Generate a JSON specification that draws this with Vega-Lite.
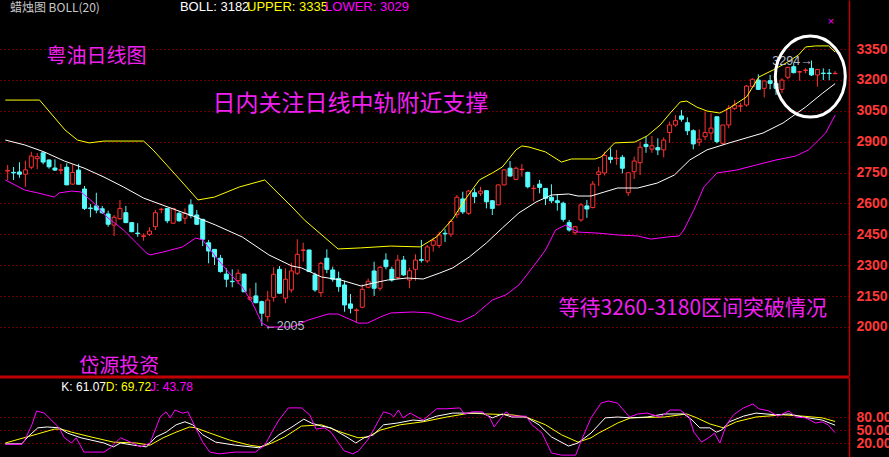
{
"$schema": "https://vega.github.io/schema/vega-lite/v6.json",
"width": 849, "height": 457,
"autosize": {"type": "none"},
"padding": {"left": 0, "top": 0, "right": 40, "bottom": 0},
"background": "#000000",
"config": {"view": {"stroke": null}},
"datasets": {
"candles": [
{"i":0,"o":2757,"c":2761,"h":2787,"l":2714},{"i":1,"o":2751,"c":2748,"h":2777,"l":2714},{"i":2,"o":2753,"c":2742,"h":2800,"l":2725},{"i":3,"o":2742,"c":2763,"h":2808,"l":2681},{"i":4,"o":2776,"c":2830,"h":2851,"l":2766},{"i":5,"o":2817,"c":2827,"h":2844,"l":2766},{"i":6,"o":2846,"c":2801,"h":2846,"l":2790},{"i":7,"o":2811,"c":2778,"h":2814,"l":2769},{"i":8,"o":2772,"c":2762,"h":2814,"l":2758},{"i":9,"o":2761,"c":2764,"h":2792,"l":2742},
{"i":10,"o":2776,"c":2690,"h":2795,"l":2690},{"i":11,"o":2694,"c":2751,"h":2790,"l":2691},{"i":12,"o":2762,"c":2693,"h":2792,"l":2693},{"i":13,"o":2670,"c":2576,"h":2685,"l":2568},{"i":14,"o":2578,"c":2575,"h":2597,"l":2533},{"i":15,"o":2588,"c":2568,"h":2652,"l":2552},{"i":16,"o":2574,"c":2555,"h":2588,"l":2549},{"i":17,"o":2549,"c":2499,"h":2565,"l":2487},{"i":18,"o":2495,"c":2533,"h":2544,"l":2442},{"i":19,"o":2526,"c":2576,"h":2617,"l":2520},
{"i":20,"o":2555,"c":2507,"h":2588,"l":2504},{"i":21,"o":2507,"c":2463,"h":2510,"l":2460},{"i":22,"o":2456,"c":2453,"h":2504,"l":2438},{"i":23,"o":2440,"c":2443,"h":2455,"l":2419},{"i":24,"o":2450,"c":2466,"h":2484,"l":2442},{"i":25,"o":2487,"c":2555,"h":2568,"l":2471},{"i":26,"o":2570,"c":2572,"h":2579,"l":2552},{"i":27,"o":2576,"c":2516,"h":2577,"l":2504},{"i":28,"o":2504,"c":2576,"h":2577,"l":2503},{"i":29,"o":2552,"c":2516,"h":2560,"l":2511},
{"i":30,"o":2528,"c":2552,"h":2576,"l":2500},{"i":31,"o":2593,"c":2541,"h":2620,"l":2528},{"i":32,"o":2544,"c":2499,"h":2568,"l":2495},{"i":33,"o":2523,"c":2426,"h":2524,"l":2393},{"i":34,"o":2409,"c":2369,"h":2423,"l":2309},{"i":35,"o":2377,"c":2341,"h":2378,"l":2301},{"i":36,"o":2334,"c":2269,"h":2350,"l":2264},{"i":37,"o":2257,"c":2232,"h":2285,"l":2193},{"i":38,"o":2222,"c":2220,"h":2280,"l":2193},{"i":39,"o":2225,"c":2261,"h":2280,"l":2209},
{"i":40,"o":2257,"c":2171,"h":2258,"l":2170},{"i":41,"o":2135,"c":2144,"h":2188,"l":2128},{"i":42,"o":2151,"c":2118,"h":2215,"l":2115},{"i":43,"o":2123,"c":2067,"h":2128,"l":2005},{"i":44,"o":2050,"c":2131,"h":2175,"l":2026},{"i":45,"o":2144,"c":2256,"h":2290,"l":2123},{"i":46,"o":2280,"c":2164,"h":2296,"l":2163},{"i":47,"o":2140,"c":2232,"h":2285,"l":2115},{"i":48,"o":2180,"c":2272,"h":2312,"l":2167},{"i":49,"o":2261,"c":2353,"h":2426,"l":2253},
{"i":50,"o":2372,"c":2374,"h":2409,"l":2317},{"i":51,"o":2374,"c":2269,"h":2375,"l":2268},{"i":52,"o":2253,"c":2180,"h":2264,"l":2171},{"i":53,"o":2167,"c":2309,"h":2317,"l":2147},{"i":54,"o":2334,"c":2280,"h":2377,"l":2261},{"i":55,"o":2277,"c":2232,"h":2293,"l":2220},{"i":56,"o":2236,"c":2196,"h":2269,"l":2171},{"i":57,"o":2204,"c":2107,"h":2225,"l":2074},{"i":58,"o":2112,"c":2091,"h":2160,"l":2066},{"i":59,"o":2080,"c":2083,"h":2091,"l":2021},
{"i":60,"o":2096,"c":2183,"h":2207,"l":2091},{"i":61,"o":2193,"c":2222,"h":2236,"l":2188},{"i":62,"o":2272,"c":2188,"h":2317,"l":2151},{"i":63,"o":2188,"c":2290,"h":2296,"l":2176},{"i":64,"o":2325,"c":2293,"h":2358,"l":2280},{"i":65,"o":2280,"c":2228,"h":2293,"l":2220},{"i":66,"o":2240,"c":2325,"h":2350,"l":2232},{"i":67,"o":2325,"c":2253,"h":2345,"l":2248},{"i":68,"o":2228,"c":2273,"h":2288,"l":2188},{"i":69,"o":2280,"c":2325,"h":2353,"l":2225},
{"i":70,"o":2327,"c":2324,"h":2423,"l":2313},{"i":71,"o":2321,"c":2389,"h":2398,"l":2311},{"i":72,"o":2397,"c":2419,"h":2434,"l":2366},{"i":73,"o":2396,"c":2447,"h":2463,"l":2384},{"i":74,"o":2455,"c":2452,"h":2475,"l":2413},{"i":75,"o":2451,"c":2512,"h":2523,"l":2437},{"i":76,"o":2546,"c":2630,"h":2641,"l":2529},{"i":77,"o":2622,"c":2559,"h":2657,"l":2549},{"i":78,"o":2552,"c":2660,"h":2665,"l":2544},{"i":79,"o":2652,"c":2633,"h":2673,"l":2601},
{"i":80,"o":2649,"c":2660,"h":2681,"l":2636},{"i":81,"o":2662,"c":2608,"h":2665,"l":2576},{"i":82,"o":2613,"c":2576,"h":2617,"l":2544},{"i":83,"o":2593,"c":2690,"h":2691,"l":2592},{"i":84,"o":2690,"c":2763,"h":2766,"l":2687},{"i":85,"o":2771,"c":2733,"h":2806,"l":2730},{"i":86,"o":2717,"c":2771,"h":2779,"l":2714},{"i":87,"o":2764,"c":2766,"h":2792,"l":2730},{"i":88,"o":2751,"c":2681,"h":2754,"l":2673},{"i":89,"o":2672,"c":2674,"h":2690,"l":2609},
{"i":90,"o":2694,"c":2678,"h":2714,"l":2649},{"i":91,"o":2673,"c":2625,"h":2674,"l":2592},{"i":92,"o":2630,"c":2613,"h":2693,"l":2601},{"i":93,"o":2613,"c":2604,"h":2646,"l":2565},{"i":94,"o":2601,"c":2523,"h":2609,"l":2511},{"i":95,"o":2507,"c":2471,"h":2520,"l":2463},{"i":96,"o":2458,"c":2487,"h":2491,"l":2447},{"i":97,"o":2520,"c":2593,"h":2601,"l":2511},{"i":98,"o":2588,"c":2573,"h":2617,"l":2530},{"i":99,"o":2580,"c":2694,"h":2709,"l":2576},
{"i":100,"o":2741,"c":2753,"h":2777,"l":2685},{"i":101,"o":2748,"c":2833,"h":2851,"l":2736},{"i":102,"o":2824,"c":2814,"h":2868,"l":2795},{"i":103,"o":2818,"c":2820,"h":2860,"l":2787},{"i":104,"o":2824,"c":2771,"h":2835,"l":2746},{"i":105,"o":2652,"c":2749,"h":2749,"l":2636},{"i":106,"o":2754,"c":2806,"h":2827,"l":2719},{"i":107,"o":2798,"c":2873,"h":2900,"l":2738},{"i":108,"o":2887,"c":2876,"h":2924,"l":2846},{"i":109,"o":2864,"c":2880,"h":2928,"l":2846},
{"i":110,"o":2871,"c":2860,"h":2916,"l":2835},{"i":111,"o":2860,"c":2908,"h":2921,"l":2824},{"i":112,"o":2944,"c":2981,"h":2997,"l":2895},{"i":113,"o":2981,"c":3002,"h":3030,"l":2973},{"i":114,"o":3025,"c":3009,"h":3054,"l":2997},{"i":115,"o":2992,"c":2953,"h":3018,"l":2932},{"i":116,"o":2953,"c":2889,"h":2960,"l":2863},{"i":117,"o":2898,"c":2912,"h":2960,"l":2879},{"i":118,"o":2924,"c":2944,"h":3045,"l":2908},{"i":119,"o":2942,"c":2966,"h":3038,"l":2908},
{"i":120,"o":3021,"c":2900,"h":3021,"l":2892},{"i":121,"o":2892,"c":2981,"h":2981,"l":2884},{"i":122,"o":2981,"c":3062,"h":3078,"l":2965},{"i":123,"o":3062,"c":3078,"h":3102,"l":3054},{"i":124,"o":3072,"c":3074,"h":3089,"l":3045},{"i":125,"o":3078,"c":3170,"h":3175,"l":3070},{"i":126,"o":3167,"c":3203,"h":3208,"l":3167},{"i":127,"o":3199,"c":3154,"h":3227,"l":3151},{"i":128,"o":3159,"c":3195,"h":3195,"l":3115},{"i":129,"o":3196,"c":3183,"h":3224,"l":3154},
{"i":130,"o":3183,"c":3159,"h":3203,"l":3127},{"i":131,"o":3154,"c":3199,"h":3208,"l":3135},{"i":132,"o":3213,"c":3261,"h":3264,"l":3203},{"i":133,"o":3264,"c":3235,"h":3282,"l":3232},{"i":134,"o":3238,"c":3240,"h":3245,"l":3196},{"i":135,"o":3246,"c":3248,"h":3257,"l":3232},{"i":136,"o":3256,"c":3224,"h":3294,"l":3219},{"i":137,"o":3224,"c":3251,"h":3253,"l":3167},{"i":138,"o":3233,"c":3231,"h":3256,"l":3199},{"i":139,"o":3233,"c":3231,"h":3253,"l":3199},
{"i":140,"o":3230,"c":3232,"h":3243,"l":3228}
],
"boll": [
{"i":-0.4,"b":"U","v":3102},{"i":5.4,"b":"U","v":3102},{"i":9.7,"b":"U","v":2957},{"i":11.8,"b":"U","v":2908},{"i":13.8,"b":"U","v":2894},{"i":16.3,"b":"U","v":2903},{"i":23,"b":"U","v":2903},{"i":24.6,"b":"U","v":2860},{"i":29.2,"b":"U","v":2714},{"i":32.2,"b":"U","v":2617},{"i":35,"b":"U","v":2631},{"i":39.2,"b":"U","v":2680},{"i":43.5,"b":"U","v":2714},{"i":48.1,"b":"U","v":2583},{"i":50.2,"b":"U","v":2520},{"i":55.9,"b":"U","v":2379},{"i":59.7,"b":"U","v":2384},{"i":64.8,"b":"U","v":2393},{"i":69.8,"b":"U","v":2389},{"i":72.6,"b":"U","v":2438},{"i":75.3,"b":"U","v":2525},{"i":77.6,"b":"U","v":2627},{"i":79.8,"b":"U","v":2714},{"i":82,"b":"U","v":2748},{"i":83.7,"b":"U","v":2777},{"i":86,"b":"U","v":2860},{"i":87,"b":"U","v":2879},{"i":88.2,"b":"U","v":2874},{"i":91,"b":"U","v":2850},{"i":93.7,"b":"U","v":2801},{"i":95.4,"b":"U","v":2816},{"i":99.4,"b":"U","v":2816},{"i":100.4,"b":"U","v":2826},{"i":102.7,"b":"U","v":2894},{"i":106.1,"b":"U","v":2898},{"i":108.2,"b":"U","v":2928},{"i":110.4,"b":"U","v":2981},{"i":112.1,"b":"U","v":3039},{"i":113.8,"b":"U","v":3093},{"i":114.9,"b":"U","v":3097},{"i":116.6,"b":"U","v":3068},{"i":118.3,"b":"U","v":3049},{"i":120.5,"b":"U","v":3039},{"i":122.1,"b":"U","v":3063},{"i":125,"b":"U","v":3117},{"i":127.1,"b":"U","v":3214},{"i":129.5,"b":"U","v":3248},{"i":131.7,"b":"U","v":3282},{"i":133.8,"b":"U","v":3321},{"i":135,"b":"U","v":3360},{"i":136.7,"b":"U","v":3365},{"i":138.9,"b":"U","v":3365},{"i":140,"b":"U","v":3335},
{"i":-0.4,"b":"M","v":2908},{"i":2.9,"b":"M","v":2884},{"i":6.2,"b":"M","v":2850},{"i":9.6,"b":"M","v":2806},{"i":12.9,"b":"M","v":2772},{"i":16.3,"b":"M","v":2728},{"i":19.6,"b":"M","v":2680},{"i":23,"b":"M","v":2626},{"i":28.5,"b":"M","v":2568},{"i":31.8,"b":"M","v":2534},{"i":35.2,"b":"M","v":2495},{"i":39.7,"b":"M","v":2437},{"i":44.2,"b":"M","v":2350},{"i":48.1,"b":"M","v":2296},{"i":49.7,"b":"M","v":2287},{"i":53.1,"b":"M","v":2243},{"i":56.4,"b":"M","v":2228},{"i":59.8,"b":"M","v":2199},{"i":61.9,"b":"M","v":2214},{"i":64.3,"b":"M","v":2228},{"i":67.6,"b":"M","v":2238},{"i":70.3,"b":"M","v":2233},{"i":73.1,"b":"M","v":2262},{"i":75.3,"b":"M","v":2287},{"i":78.1,"b":"M","v":2340},{"i":81,"b":"M","v":2408},{"i":83.7,"b":"M","v":2481},{"i":86.5,"b":"M","v":2554},{"i":89.4,"b":"M","v":2607},{"i":92,"b":"M","v":2641},{"i":94.9,"b":"M","v":2646},{"i":96.5,"b":"M","v":2636},{"i":98.7,"b":"M","v":2636},{"i":101,"b":"M","v":2656},{"i":103.2,"b":"M","v":2675},{"i":106.6,"b":"M","v":2675},{"i":109.9,"b":"M","v":2699},{"i":112.8,"b":"M","v":2738},{"i":115.4,"b":"M","v":2811},{"i":118.3,"b":"M","v":2860},{"i":122.1,"b":"M","v":2894},{"i":127.8,"b":"M","v":2942},{"i":131.2,"b":"M","v":2991},{"i":135,"b":"M","v":3068},{"i":137.9,"b":"M","v":3136},{"i":140,"b":"M","v":3182},
{"i":-0.4,"b":"L","v":2714},{"i":2.9,"b":"L","v":2665},{"i":5.1,"b":"L","v":2651},{"i":7.9,"b":"L","v":2631},{"i":8.7,"b":"L","v":2651},{"i":10.8,"b":"L","v":2660},{"i":12.4,"b":"L","v":2656},{"i":14.6,"b":"L","v":2602},{"i":16.8,"b":"L","v":2534},{"i":19.6,"b":"L","v":2471},{"i":21.8,"b":"L","v":2408},{"i":23.5,"b":"L","v":2359},{"i":24.1,"b":"L","v":2350},{"i":26.3,"b":"L","v":2364},{"i":29.6,"b":"L","v":2389},{"i":31.8,"b":"L","v":2432},{"i":33,"b":"L","v":2423},{"i":35.2,"b":"L","v":2340},{"i":37.5,"b":"L","v":2262},{"i":39.7,"b":"L","v":2194},{"i":41.4,"b":"L","v":2117},{"i":43,"b":"L","v":2019},{"i":44.2,"b":"L","v":2000},{"i":48.1,"b":"L","v":2000},{"i":50.9,"b":"L","v":2034},{"i":54.2,"b":"L","v":2063},{"i":55.9,"b":"L","v":2063},{"i":59.3,"b":"L","v":2019},{"i":60.9,"b":"L","v":2019},{"i":63.1,"b":"L","v":2049},{"i":64.8,"b":"L","v":2068},{"i":68.6,"b":"L","v":2073},{"i":71.5,"b":"L","v":2068},{"i":74,"b":"L","v":2044},{"i":76.5,"b":"L","v":2024},{"i":79,"b":"L","v":2058},{"i":82,"b":"L","v":2131},{"i":84.3,"b":"L","v":2156},{"i":86.5,"b":"L","v":2204},{"i":89.4,"b":"L","v":2311},{"i":91,"b":"L","v":2374},{"i":92.7,"b":"L","v":2471},{"i":94.4,"b":"L","v":2495},{"i":96.5,"b":"L","v":2461},{"i":99.9,"b":"L","v":2456},{"i":103.2,"b":"L","v":2447},{"i":106.6,"b":"L","v":2442},{"i":108.8,"b":"L","v":2427},{"i":111.6,"b":"L","v":2437},{"i":113.6,"b":"L","v":2442},{"i":114.4,"b":"L","v":2471},{"i":116.1,"b":"L","v":2568},{"i":117.8,"b":"L","v":2680},{"i":120,"b":"L","v":2748},{"i":123.3,"b":"L","v":2762},{"i":126.7,"b":"L","v":2787},{"i":130,"b":"L","v":2811},{"i":133.3,"b":"L","v":2830},{"i":135.5,"b":"L","v":2860},{"i":138.4,"b":"L","v":2942},{"i":140,"b":"L","v":3029}
],
"kdj": [
{"i":-0.4,"k":"D","v":20},{"i":5.1,"k":"D","v":41},{"i":7.9,"k":"D","v":52},{"i":9.1,"k":"D","v":52},{"i":10.8,"k":"D","v":45},{"i":14.1,"k":"D","v":34},{"i":17.9,"k":"D","v":22},{"i":21.8,"k":"D","v":20},{"i":24.1,"k":"D","v":15},{"i":26.3,"k":"D","v":32},{"i":28.5,"k":"D","v":45},{"i":30.8,"k":"D","v":57},{"i":31.8,"k":"D","v":55},{"i":34.2,"k":"D","v":43},{"i":37.5,"k":"D","v":27},{"i":40.9,"k":"D","v":15},{"i":43,"k":"D","v":11},{"i":44.7,"k":"D","v":20},{"i":46.9,"k":"D","v":34},{"i":49.7,"k":"D","v":59},{"i":53.1,"k":"D","v":62},{"i":56.4,"k":"D","v":45},{"i":59.3,"k":"D","v":32},{"i":60.9,"k":"D","v":34},{"i":63.1,"k":"D","v":50},{"i":66.4,"k":"D","v":62},{"i":70.3,"k":"D","v":69},{"i":74.3,"k":"D","v":80},{"i":78.2,"k":"D","v":89},{"i":81,"k":"D","v":87},{"i":85.3,"k":"D","v":85},{"i":87.7,"k":"D","v":80},{"i":91,"k":"D","v":62},{"i":93.7,"k":"D","v":39},{"i":96.5,"k":"D","v":22},{"i":98.7,"k":"D","v":32},{"i":100,"k":"D","v":43},{"i":102.1,"k":"D","v":58},{"i":103.2,"k":"D","v":66},{"i":105.4,"k":"D","v":78},{"i":111.1,"k":"D","v":80},{"i":114.9,"k":"D","v":87},{"i":116.6,"k":"D","v":78},{"i":118.8,"k":"D","v":64},{"i":121.1,"k":"D","v":55},{"i":123.3,"k":"D","v":69},{"i":126.6,"k":"D","v":80},{"i":131.2,"k":"D","v":85},{"i":134.5,"k":"D","v":82},{"i":137.8,"k":"D","v":78},{"i":140,"k":"D","v":69.72},
{"i":-0.4,"k":"K","v":18},{"i":2.4,"k":"K","v":18},{"i":3.4,"k":"K","v":34},{"i":5.1,"k":"K","v":55},{"i":6.7,"k":"K","v":57},{"i":8.7,"k":"K","v":55},{"i":10.1,"k":"K","v":43},{"i":12.4,"k":"K","v":32},{"i":16.3,"k":"K","v":20},{"i":17.9,"k":"K","v":11},{"i":19.1,"k":"K","v":20},{"i":21.3,"k":"K","v":15},{"i":23.5,"k":"K","v":11},{"i":25.1,"k":"K","v":34},{"i":26.8,"k":"K","v":45},{"i":28.5,"k":"K","v":62},{"i":30,"k":"K","v":69},{"i":31.3,"k":"K","v":62},{"i":33,"k":"K","v":39},{"i":35.2,"k":"K","v":22},{"i":38.5,"k":"K","v":15},{"i":42.5,"k":"K","v":9},{"i":44.2,"k":"K","v":20},{"i":45.9,"k":"K","v":39},{"i":48.1,"k":"K","v":57},{"i":50.1,"k":"K","v":75},{"i":51.4,"k":"K","v":66},{"i":53.1,"k":"K","v":59},{"i":54.7,"k":"K","v":55},{"i":57.6,"k":"K","v":32},{"i":58.9,"k":"K","v":20},{"i":60.3,"k":"K","v":32},{"i":61.9,"k":"K","v":39},{"i":63.6,"k":"K","v":62},{"i":65.9,"k":"K","v":66},{"i":68.6,"k":"K","v":73},{"i":70.3,"k":"K","v":71},{"i":72.6,"k":"K","v":82},{"i":75.3,"k":"K","v":89},{"i":77.6,"k":"K","v":89},{"i":80.3,"k":"K","v":89},{"i":82,"k":"K","v":78},{"i":83.7,"k":"K","v":87},{"i":85.3,"k":"K","v":80},{"i":87.7,"k":"K","v":80},{"i":89.9,"k":"K","v":62},{"i":92,"k":"K","v":34},{"i":94.9,"k":"K","v":13},{"i":96.5,"k":"K","v":20},{"i":98.7,"k":"K","v":43},{"i":101.1,"k":"K","v":78},{"i":103.2,"k":"K","v":80},{"i":105.4,"k":"K","v":78},{"i":108.2,"k":"K","v":80},{"i":111.1,"k":"K","v":87},{"i":114.4,"k":"K","v":87},{"i":115.8,"k":"K","v":73},{"i":117.1,"k":"K","v":55},{"i":118.8,"k":"K","v":55},{"i":119.9,"k":"K","v":45},{"i":120.8,"k":"K","v":50},{"i":122.1,"k":"K","v":69},{"i":124.5,"k":"K","v":82},{"i":126.6,"k":"K","v":89},{"i":130,"k":"K","v":85},{"i":132.2,"k":"K","v":87},{"i":134.5,"k":"K","v":80},{"i":137.8,"k":"K","v":73},{"i":140,"k":"K","v":61.07},
{"i":-0.4,"k":"J","v":17},{"i":2.4,"k":"J","v":17},{"i":2.9,"k":"J","v":27},{"i":4.1,"k":"J","v":62},{"i":4.9,"k":"J","v":94},{"i":6.2,"k":"J","v":89},{"i":7.4,"k":"J","v":73},{"i":8.7,"k":"J","v":55},{"i":9.6,"k":"J","v":32},{"i":10.8,"k":"J","v":20},{"i":11.6,"k":"J","v":32},{"i":12.9,"k":"J","v":-1},{"i":16.3,"k":"J","v":-1},{"i":17.4,"k":"J","v":9},{"i":19.1,"k":"J","v":32},{"i":20.8,"k":"J","v":22},{"i":22.5,"k":"J","v":11},{"i":24.1,"k":"J","v":20},{"i":25.8,"k":"J","v":80},{"i":26.8,"k":"J","v":92},{"i":27.5,"k":"J","v":78},{"i":28.3,"k":"J","v":96},{"i":29.6,"k":"J","v":89},{"i":30.5,"k":"J","v":92},{"i":31.8,"k":"J","v":55},{"i":33,"k":"J","v":22},{"i":34.2,"k":"J","v":-1},{"i":35.8,"k":"J","v":-5},{"i":38.5,"k":"J","v":-1},{"i":41.9,"k":"J","v":-1},{"i":43.5,"k":"J","v":15},{"i":44.7,"k":"J","v":45},{"i":45.9,"k":"J","v":73},{"i":47.5,"k":"J","v":101},{"i":49.7,"k":"J","v":101},{"i":51.1,"k":"J","v":85},{"i":52.2,"k":"J","v":52},{"i":53.6,"k":"J","v":55},{"i":54.7,"k":"J","v":45},{"i":55.9,"k":"J","v":22},{"i":56.9,"k":"J","v":2},{"i":58.4,"k":"J","v":-5},{"i":59.4,"k":"J","v":2},{"i":60.9,"k":"J","v":27},{"i":61.9,"k":"J","v":50},{"i":62.8,"k":"J","v":73},{"i":63.6,"k":"J","v":92},{"i":64.8,"k":"J","v":87},{"i":65.3,"k":"J","v":80},{"i":66.1,"k":"J","v":96},{"i":66.9,"k":"J","v":78},{"i":68.1,"k":"J","v":89},{"i":69.3,"k":"J","v":80},{"i":70.3,"k":"J","v":73},{"i":72.6,"k":"J","v":99},{"i":74.3,"k":"J","v":99},{"i":76.5,"k":"J","v":101},{"i":77.3,"k":"J","v":87},{"i":78.6,"k":"J","v":92},{"i":80.3,"k":"J","v":92},{"i":81.5,"k":"J","v":80},{"i":82.3,"k":"J","v":57},{"i":83.2,"k":"J","v":73},{"i":84.3,"k":"J","v":92},{"i":85.3,"k":"J","v":82},{"i":87.7,"k":"J","v":82},{"i":88.7,"k":"J","v":62},{"i":90.4,"k":"J","v":43},{"i":92,"k":"J","v":-3},{"i":93.7,"k":"J","v":-8},{"i":96.1,"k":"J","v":-8},{"i":97.1,"k":"J","v":27},{"i":98.7,"k":"J","v":78},{"i":100.4,"k":"J","v":112},{"i":101.6,"k":"J","v":117},{"i":103.2,"k":"J","v":112},{"i":105.2,"k":"J","v":80},{"i":106.6,"k":"J","v":87},{"i":108.2,"k":"J","v":89},{"i":110.4,"k":"J","v":80},{"i":112.1,"k":"J","v":96},{"i":113.8,"k":"J","v":96},{"i":115.3,"k":"J","v":80},{"i":116.1,"k":"J","v":45},{"i":117.4,"k":"J","v":22},{"i":118.8,"k":"J","v":34},{"i":119.6,"k":"J","v":43},{"i":120.5,"k":"J","v":20},{"i":121.6,"k":"J","v":62},{"i":122.8,"k":"J","v":85},{"i":124.5,"k":"J","v":101},{"i":126.1,"k":"J","v":110},{"i":127.1,"k":"J","v":99},{"i":128.8,"k":"J","v":94},{"i":130.3,"k":"J","v":82},{"i":132.2,"k":"J","v":94},{"i":133.3,"k":"J","v":80},{"i":135,"k":"J","v":78},{"i":136.7,"k":"J","v":66},{"i":137.8,"k":"J","v":69},{"i":138.8,"k":"J","v":62},{"i":140,"k":"J","v":43.78}
]
},
"layer": [
{"data": {"name": "candles"},
 "mark": {"type": "rule", "strokeWidth": 1},
 "encoding": {
  "x": {"field": "i", "type": "quantitative", "scale": {"domain": [-0.45, 141.5], "nice": false, "zero": false}, "axis": null},
  "y": {"field": "l", "type": "quantitative", "scale": {"domain": [1762, 3588], "range": [376, 0], "nice": false, "zero": false},
        "axis": {"orient": "right", "values": [2000,2150,2300,2450,2600,2750,2900,3050,3200,3350], "format": "d", "title": null, "ticks": false,
                 "labelColor": "#ff3838", "labelFont": "Liberation Sans", "labelFontSize": 14, "labelFontWeight": "bold", "labelPadding": 7,
                 "labelOverlap": false, "labelFlush": false, "grid": true, "gridColor": "#d00000", "gridDash": [1, 3], "gridWidth": 1,
                 "domainColor": "#c00000", "domainWidth": 1.5}},
  "y2": {"field": "h"},
  "color": {"condition": {"test": "datum.c >= datum.o", "value": "#ff3232"}, "value": "#54fcfc"}
 }},
{"data": {"name": "candles"},
 "mark": {"type": "bar", "width": 4, "orient": "vertical", "strokeWidth": 1},
 "encoding": {
  "x": {"field": "i", "type": "quantitative", "scale": {"domain": [-0.45, 141.5], "nice": false, "zero": false}, "axis": null},
  "y": {"field": "o", "type": "quantitative", "scale": {"domain": [1762, 3588], "range": [376, 0], "nice": false, "zero": false}, "axis": null},
  "y2": {"field": "c"},
  "fill": {"condition": {"test": "datum.c >= datum.o", "value": "#000000"}, "value": "#54fcfc"},
  "stroke": {"condition": {"test": "datum.c >= datum.o", "value": "#ff3232"}, "value": "#54fcfc"}
 }},
{"data": {"name": "boll"},
 "mark": {"type": "line", "strokeWidth": 1},
 "encoding": {
  "x": {"field": "i", "type": "quantitative", "scale": {"domain": [-0.45, 141.5], "nice": false, "zero": false}, "axis": null},
  "y": {"field": "v", "type": "quantitative", "scale": {"domain": [1762, 3588], "range": [376, 0], "nice": false, "zero": false}, "axis": null},
  "color": {"field": "b", "type": "nominal", "scale": {"domain": ["M", "U", "L"], "range": ["#ffffff", "#ffff00", "#ff00ff"]}, "legend": null}
 }},
{"data": {"values": [{}]},
 "mark": {"type": "text", "text": "蜡烛图 BOLL(20)", "align": "left", "baseline": "middle", "font": "Noto Sans CJK SC", "fontSize": 12, "color": "#c8c8c8"},
 "encoding": {"x": {"datum": 0.38, "type": "quantitative", "scale": {"domain": [-0.45, 141.5], "nice": false, "zero": false}, "axis": null}, "y": {"datum": 3550, "type": "quantitative", "scale": {"domain": [1762, 3588], "range": [376, 0], "nice": false, "zero": false}, "axis": null}}},
{"data": {"values": [{}]},
 "mark": {"type": "text", "text": "BOLL: 3182", "align": "left", "baseline": "middle", "font": "Liberation Sans", "fontSize": 13, "color": "#ffffff"},
 "encoding": {"x": {"datum": 29.15, "type": "quantitative", "scale": {"domain": [-0.45, 141.5], "nice": false, "zero": false}, "axis": null}, "y": {"datum": 3552, "type": "quantitative", "scale": {"domain": [1762, 3588], "range": [376, 0], "nice": false, "zero": false}, "axis": null}}},
{"data": {"values": [{}]},
 "mark": {"type": "text", "text": "UPPER: 3335", "align": "left", "baseline": "middle", "font": "Liberation Sans", "fontSize": 13, "color": "#ffff00"},
 "encoding": {"x": {"datum": 40.5, "type": "quantitative", "scale": {"domain": [-0.45, 141.5], "nice": false, "zero": false}, "axis": null}, "y": {"datum": 3552, "type": "quantitative", "scale": {"domain": [1762, 3588], "range": [376, 0], "nice": false, "zero": false}, "axis": null}}},
{"data": {"values": [{}]},
 "mark": {"type": "text", "text": "LOWER: 3029", "align": "left", "baseline": "middle", "font": "Liberation Sans", "fontSize": 13, "color": "#ff00ff"},
 "encoding": {"x": {"datum": 53.7, "type": "quantitative", "scale": {"domain": [-0.45, 141.5], "nice": false, "zero": false}, "axis": null}, "y": {"datum": 3552, "type": "quantitative", "scale": {"domain": [1762, 3588], "range": [376, 0], "nice": false, "zero": false}, "axis": null}}},
{"data": {"values": [{}]},
 "mark": {"type": "text", "text": "粤油日线图", "align": "left", "baseline": "middle", "font": "Noto Sans CJK SC", "fontSize": 20, "color": "#f020f0"},
 "encoding": {"x": {"datum": 6.57, "type": "quantitative", "scale": {"domain": [-0.45, 141.5], "nice": false, "zero": false}, "axis": null}, "y": {"datum": 3311, "type": "quantitative", "scale": {"domain": [1762, 3588], "range": [376, 0], "nice": false, "zero": false}, "axis": null}}},
{"data": {"values": [{}]},
 "mark": {"type": "text", "text": "日内关注日线中轨附近支撑", "align": "left", "baseline": "middle", "font": "Noto Sans CJK SC", "fontSize": 23, "color": "#f020f0"},
 "encoding": {"x": {"datum": 34.67, "type": "quantitative", "scale": {"domain": [-0.45, 141.5], "nice": false, "zero": false}, "axis": null}, "y": {"datum": 3083, "type": "quantitative", "scale": {"domain": [1762, 3588], "range": [376, 0], "nice": false, "zero": false}, "axis": null}}},
{"data": {"values": [{}]},
 "mark": {"type": "text", "text": "等待3260-3180区间突破情况", "align": "left", "baseline": "middle", "font": "Noto Sans CJK SC", "fontSize": 21, "color": "#f020f0"},
 "encoding": {"x": {"datum": 93.2, "type": "quantitative", "scale": {"domain": [-0.45, 141.5], "nice": false, "zero": false}, "axis": null}, "y": {"datum": 2087, "type": "quantitative", "scale": {"domain": [1762, 3588], "range": [376, 0], "nice": false, "zero": false}, "axis": null}}},
{"data": {"values": [{}]},
 "mark": {"type": "text", "text": "岱源投资", "align": "left", "baseline": "middle", "font": "Noto Sans CJK SC", "fontSize": 20, "color": "#f020f0"},
 "encoding": {"x": {"datum": 12.1, "type": "quantitative", "scale": {"domain": [-0.45, 141.5], "nice": false, "zero": false}, "axis": null}, "y": {"datum": 1806, "type": "quantitative", "scale": {"domain": [1762, 3588], "range": [376, 0], "nice": false, "zero": false}, "axis": null}}},
{"data": {"values": [{}]},
 "mark": {"type": "text", "text": "←2005", "align": "left", "baseline": "middle", "font": "Liberation Sans", "fontSize": 12.5, "color": "#b4bccc"},
 "encoding": {"x": {"datum": 43.4, "type": "quantitative", "scale": {"domain": [-0.45, 141.5], "nice": false, "zero": false}, "axis": null}, "y": {"datum": 2005, "type": "quantitative", "scale": {"domain": [1762, 3588], "range": [376, 0], "nice": false, "zero": false}, "axis": null}}},
{"data": {"values": [{}]},
 "mark": {"type": "text", "text": "3294→", "align": "right", "baseline": "middle", "font": "Liberation Sans", "fontSize": 12.5, "color": "#b4bccc"},
 "encoding": {"x": {"datum": 136.2, "type": "quantitative", "scale": {"domain": [-0.45, 141.5], "nice": false, "zero": false}, "axis": null}, "y": {"datum": 3292, "type": "quantitative", "scale": {"domain": [1762, 3588], "range": [376, 0], "nice": false, "zero": false}, "axis": null}}},
{"data": {"values": [{}]},
 "mark": {"type": "text", "text": "×", "align": "center", "baseline": "middle", "font": "Liberation Sans", "fontSize": 11, "color": "#ff00ff"},
 "encoding": {"x": {"datum": 139.3, "type": "quantitative", "scale": {"domain": [-0.45, 141.5], "nice": false, "zero": false}, "axis": null}, "y": {"datum": 3481, "type": "quantitative", "scale": {"domain": [1762, 3588], "range": [376, 0], "nice": false, "zero": false}, "axis": null}}},
{"data": {"values": [{}]},
 "mark": {"type": "point", "shape": "M -0.864 0 A 0.864 1 0 1 0 0.864 0 A 0.864 1 0 1 0 -0.864 0 Z", "size": 6561, "filled": false, "stroke": "#ffffff", "strokeWidth": 3, "opacity": 1},
 "encoding": {"x": {"datum": 135.8, "type": "quantitative", "scale": {"domain": [-0.45, 141.5], "nice": false, "zero": false}, "axis": null}, "y": {"datum": 3216, "type": "quantitative", "scale": {"domain": [1762, 3588], "range": [376, 0], "nice": false, "zero": false}, "axis": null}}},
{"data": {"values": [{}]},
 "mark": {"type": "rule", "color": "#c00000", "strokeWidth": 3},
 "encoding": {"y": {"datum": 172.3, "type": "quantitative", "scale": {"domain": [-12.3, 172.3], "range": [457, 377], "nice": false, "zero": false}, "axis": null}}},
{"data": {"name": "kdj"},
 "mark": {"type": "line", "strokeWidth": 1},
 "encoding": {
  "x": {"field": "i", "type": "quantitative", "scale": {"domain": [-0.45, 141.5], "nice": false, "zero": false}, "axis": null},
  "y": {"field": "v", "type": "quantitative", "scale": {"domain": [-12.3, 172.3], "range": [457, 377], "nice": false, "zero": false},
        "axis": {"orient": "right", "values": [20, 50, 80], "format": ".2f", "title": null, "ticks": false,
                 "labelColor": "#ff3838", "labelFont": "Liberation Sans", "labelFontSize": 14, "labelFontWeight": "bold", "labelPadding": 7,
                 "labelOverlap": false, "labelFlush": false, "grid": true, "gridColor": "#d00000", "gridDash": [1, 3], "gridWidth": 1,
                 "domainColor": "#c00000", "domainWidth": 1.5}},
  "color": {"field": "k", "type": "nominal", "scale": {"domain": ["D", "K", "J"], "range": ["#ffff00", "#ffffff", "#ff00ff"]}, "legend": null}
 }},
{"data": {"values": [{}]},
 "mark": {"type": "text", "text": "K: 61.07", "align": "left", "baseline": "middle", "font": "Liberation Sans", "fontSize": 12, "color": "#ffffff"},
 "encoding": {"x": {"datum": 9.08, "type": "quantitative", "scale": {"domain": [-0.45, 141.5], "nice": false, "zero": false}, "axis": null}, "y": {"datum": 149, "type": "quantitative", "scale": {"domain": [-12.3, 172.3], "range": [457, 377], "nice": false, "zero": false}, "axis": null}}},
{"data": {"values": [{}]},
 "mark": {"type": "text", "text": "D: 69.72", "align": "left", "baseline": "middle", "font": "Liberation Sans", "fontSize": 12, "color": "#ffff00"},
 "encoding": {"x": {"datum": 16.6, "type": "quantitative", "scale": {"domain": [-0.45, 141.5], "nice": false, "zero": false}, "axis": null}, "y": {"datum": 149, "type": "quantitative", "scale": {"domain": [-12.3, 172.3], "range": [457, 377], "nice": false, "zero": false}, "axis": null}}},
{"data": {"values": [{}]},
 "mark": {"type": "text", "text": "J: 43.78", "align": "left", "baseline": "middle", "font": "Liberation Sans", "fontSize": 12, "color": "#ff00ff"},
 "encoding": {"x": {"datum": 24.1, "type": "quantitative", "scale": {"domain": [-0.45, 141.5], "nice": false, "zero": false}, "axis": null}, "y": {"datum": 149, "type": "quantitative", "scale": {"domain": [-12.3, 172.3], "range": [457, 377], "nice": false, "zero": false}, "axis": null}}}
]
,
"resolve": {"scale": {"y": "independent", "color": "independent"}, "axis": {"y": "independent"}}
}
